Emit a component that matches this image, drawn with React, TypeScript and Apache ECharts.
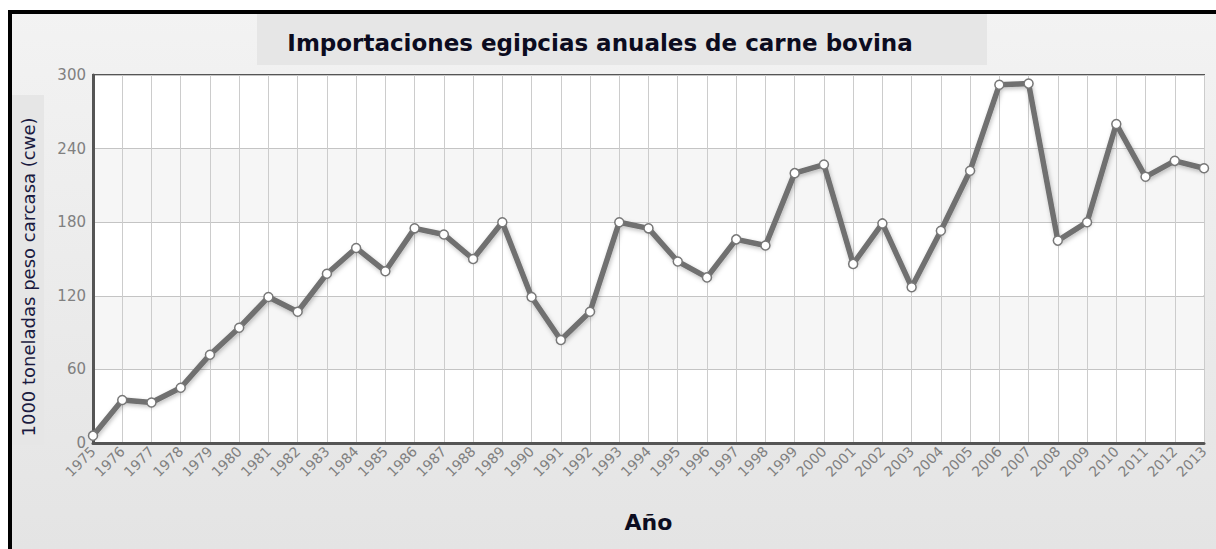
import React, { useEffect, useRef } from "react";
import * as echarts from "echarts";

const years: string[] = [
  "1975", "1976", "1977", "1978", "1979", "1980", "1981", "1982", "1983", "1984",
  "1985", "1986", "1987", "1988", "1989", "1990", "1991", "1992", "1993", "1994",
  "1995", "1996", "1997", "1998", "1999", "2000", "2001", "2002", "2003", "2004",
  "2005", "2006", "2007", "2008", "2009", "2010", "2011", "2012", "2013",
];

const imports: number[] = [
  6, 35, 33, 45, 72, 94, 119, 107, 138, 159,
  140, 175, 170, 150, 180, 119, 84, 107, 180, 175,
  148, 135, 166, 161, 220, 227, 146, 179, 127, 173,
  222, 292, 293, 165, 180, 260, 217, 230, 224,
];

const yTicks: number[] = [0, 60, 120, 180, 240, 300];

const titleText = "Importaciones egipcias anuales de carne bovina";
const yName = "1000 toneladas peso carcasa (cwe)";
const xName = "Año";

const FONT = "'DejaVu Sans', Verdana, sans-serif";

export default function App() {
  const ref = useRef<HTMLDivElement>(null);
  useEffect(() => {
    if (!ref.current) return;
    const chart = echarts.init(ref.current, null, { renderer: "svg" });
    chart.setOption({
      animation: false,
      backgroundColor: {
        type: "linear", x: 0, y: 0, x2: 0, y2: 1,
        colorStops: [
          { offset: 0, color: "#f3f3f3" },
          { offset: 1, color: "#e4e4e4" },
        ],
      },
      graphic: [
        { type: "rect", z: -1, shape: { x: 0, y: 0, width: 1216, height: 10 }, style: { fill: "#ffffff" } },
        { type: "rect", z: -1, shape: { x: 0, y: 0, width: 8, height: 549 }, style: { fill: "#ffffff" } },
        { type: "rect", z: 1, shape: { x: 8, y: 10, width: 1208, height: 4 }, style: { fill: "#000000" } },
        { type: "rect", z: 1, shape: { x: 8, y: 10, width: 4, height: 539 }, style: { fill: "#000000" } },
        { type: "rect", z: -1, shape: { x: 257, y: 14, width: 730, height: 51 }, style: { fill: "#e6e6e6" } },
        { type: "rect", z: -1, shape: { x: 12, y: 95, width: 32, height: 350 }, style: { fill: "#e6e6e6" } },
        {
          type: "text", x: 28, y: 277, rotation: Math.PI / 2,
          style: {
            text: yName, fill: "#1a1a40", font: "18px " + FONT,
            align: "center", verticalAlign: "middle",
          },
        },
      ],
      title: {
        text: titleText,
        left: 595, top: 26,
        textAlign: "center",
        textStyle: { color: "#0c0c20", fontSize: 23, fontWeight: "bold", fontFamily: FONT },
      },
      grid: {
        left: 93, right: 12, top: 75, bottom: 106,
        show: true, backgroundColor: "#ffffff", borderColor: "#555555", borderWidth: 2,
      },
      xAxis: {
        type: "category",
        data: years,
        boundaryGap: false,
        name: xName,
        nameLocation: "middle",
        nameGap: 68,
        nameTextStyle: { color: "#0c0c20", fontSize: 22, fontWeight: "bold", fontFamily: FONT },
        axisLine: { show: true, lineStyle: { color: "#555555", width: 3 } },
        axisTick: { show: false },
        axisLabel: { rotate: 45, color: "#808080", fontSize: 14, margin: 6, fontFamily: FONT, interval: 0 },
        splitLine: { show: true, lineStyle: { color: "#cccccc", width: 1 } },
      },
      yAxis: {
        type: "value",
        min: yTicks[0],
        max: yTicks[yTicks.length - 1],
        interval: 60,
        axisLine: { show: true, lineStyle: { color: "#555555", width: 3 } },
        axisTick: { show: false },
        axisLabel: { color: "#808080", fontSize: 15, margin: 7, fontFamily: FONT },
        splitLine: { show: true, lineStyle: { color: "#c4c4c4", width: 1 } },
        splitArea: { show: true, areaStyle: { color: ["#ffffff", "#f6f6f6"] } },
      },
      series: [
        {
          type: "line",
          data: imports,
          symbol: "circle",
          symbolSize: 9,
          lineStyle: { color: "#707070", width: 5.5, shadowColor: "rgba(0,0,0,0.25)", shadowBlur: 4, shadowOffsetX: 1, shadowOffsetY: 2 },
          itemStyle: { color: "#ffffff", borderColor: "#777777", borderWidth: 1.5 },
          z: 3,
        },
      ],
    });
    return () => chart.dispose();
  }, []);
  return <div ref={ref} style={{ position: "fixed", left: 0, top: 0, width: 1216, height: 549 }} />;
}
